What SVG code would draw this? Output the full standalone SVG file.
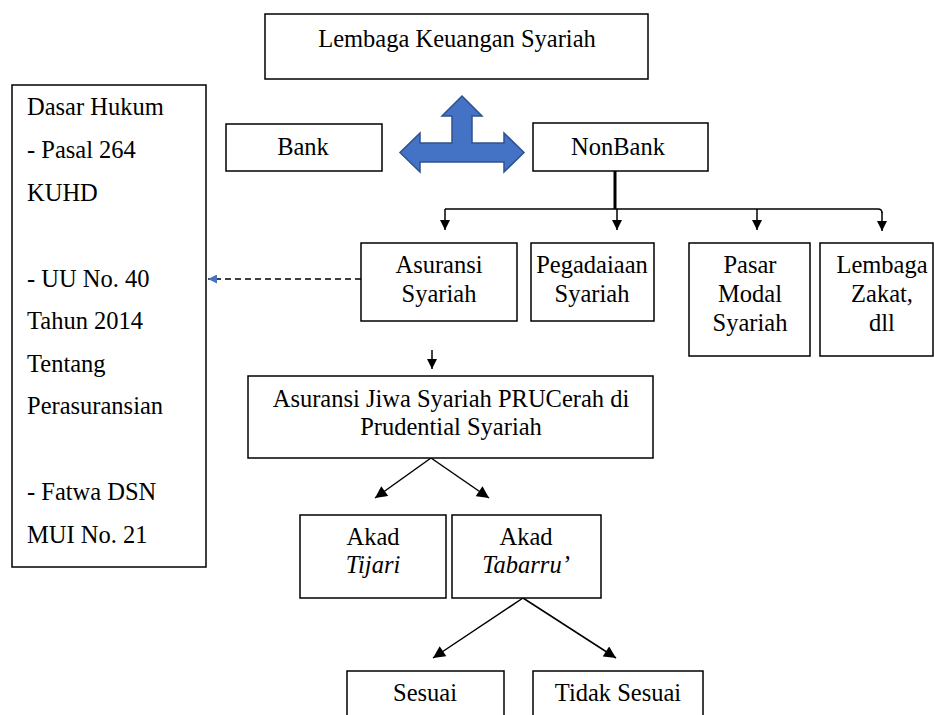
<svg xmlns="http://www.w3.org/2000/svg" width="934" height="715" viewBox="0 0 934 715">
<style>
  .box{fill:#fff;stroke:#000;stroke-width:1.5}
  text{font-family:"Liberation Serif" !important;font-size:24.5px}
  .c{text-anchor:middle}
  .it{font-style:italic}
  .ln{fill:none;stroke:#000;stroke-width:1.5}
</style>
<defs>
  <marker id="ah" viewBox="0 0 10 10" refX="10" refY="5" markerWidth="10" markerHeight="10" markerUnits="userSpaceOnUse" orient="auto">
    <path d="M0,0 L10,5 L0,10 Z" fill="#000"/>
  </marker>
  <marker id="ahs" viewBox="0 0 10 10" refX="10" refY="5" markerWidth="13" markerHeight="12" markerUnits="userSpaceOnUse" orient="auto">
    <path d="M0,0 L10,5 L0,10 Z" fill="#000"/>
  </marker>
  <marker id="ahb" viewBox="0 0 10 10" refX="10" refY="5" markerWidth="9" markerHeight="9" markerUnits="userSpaceOnUse" orient="auto">
    <path d="M0,0 L10,5 L0,10 Z" fill="#4472C4"/>
  </marker>
</defs>
<rect width="934" height="715" fill="#fff"/>

<g id="connectors">
  <polygon points="462,96 482,116 472,116 472,143 504,143 504,133 524,152.5 504,172 504,162 420,162 420,172 400,152.5 420,133 420,143 452,143 452,116 442,116" fill="#4472C4" stroke="#2F528F" stroke-width="1.5"/>
  <line x1="615" y1="171" x2="615" y2="209" stroke="#000" stroke-width="3"/>
  <path class="ln" d="M445,209 L878,209 Q882,209 882,213"/>
  <line class="ln" x1="445" y1="209" x2="445" y2="230" marker-end="url(#ah)"/>
  <line class="ln" x1="617" y1="209" x2="617" y2="230" marker-end="url(#ah)"/>
  <line class="ln" x1="757" y1="209" x2="757" y2="230" marker-end="url(#ah)"/>
  <line class="ln" x1="882" y1="212" x2="882" y2="231" marker-end="url(#ah)"/>
  <line class="ln" x1="432" y1="350" x2="432" y2="369" marker-end="url(#ah)"/>
  <line x1="361" y1="279" x2="208" y2="279" stroke="#000" stroke-width="1.5" stroke-dasharray="6,4" marker-end="url(#ahb)"/>
  <line class="ln" x1="431" y1="458" x2="375" y2="498" marker-end="url(#ahs)"/>
  <line class="ln" x1="431" y1="458" x2="489" y2="498" marker-end="url(#ahs)"/>
  <line class="ln" x1="523" y1="598" x2="433" y2="658" marker-end="url(#ahs)"/>
  <line class="ln" x1="523" y1="598" x2="616" y2="658" marker-end="url(#ahs)"/>
</g>

<g id="lks">
  <rect class="box" x="265" y="14" width="383" height="65"/>
  <text class="c" font-family="Liberation Serif" x="457" y="47">Lembaga Keuangan Syariah</text>
</g>
<g id="bank">
  <rect class="box" x="226" y="124" width="156" height="47"/>
  <text class="c" font-family="Liberation Serif" x="303" y="155">Bank</text>
</g>
<g id="nonbank">
  <rect class="box" x="533" y="123" width="175" height="48"/>
  <text class="c" font-family="Liberation Serif" x="618" y="155">NonBank</text>
</g>
<g id="dasar-hukum">
  <rect class="box" x="12" y="85" width="194" height="482"/>
  <text font-family="Liberation Serif" x="27" y="115">Dasar Hukum</text>
  <text font-family="Liberation Serif" x="27" y="158">- Pasal 264</text>
  <text font-family="Liberation Serif" x="27" y="201">KUHD</text>
  <text font-family="Liberation Serif" x="27" y="287">- UU No. 40</text>
  <text font-family="Liberation Serif" x="27" y="329">Tahun 2014</text>
  <text font-family="Liberation Serif" x="27" y="372">Tentang</text>
  <text font-family="Liberation Serif" x="27" y="414">Perasuransian</text>
  <text font-family="Liberation Serif" x="27" y="500">- Fatwa DSN</text>
  <text font-family="Liberation Serif" x="27" y="543">MUI No. 21</text>
</g>
<g id="asuransi">
  <rect class="box" x="361" y="243" width="156" height="78"/>
  <text class="c" font-family="Liberation Serif" x="439" y="273">Asuransi</text>
  <text class="c" font-family="Liberation Serif" x="439" y="302">Syariah</text>
</g>
<g id="pegadaian">
  <rect class="box" x="531" y="243" width="123" height="78"/>
  <text class="c" font-family="Liberation Serif" x="592" y="273">Pegadaiaan</text>
  <text class="c" font-family="Liberation Serif" x="592" y="302">Syariah</text>
</g>
<g id="pasar-modal">
  <rect class="box" x="689" y="243" width="121" height="113"/>
  <text class="c" font-family="Liberation Serif" x="750" y="273">Pasar</text>
  <text class="c" font-family="Liberation Serif" x="750" y="302">Modal</text>
  <text class="c" font-family="Liberation Serif" x="750" y="331">Syariah</text>
</g>
<g id="lembaga-zakat">
  <rect class="box" x="820" y="243" width="113" height="113"/>
  <text class="c" font-family="Liberation Serif" x="882" y="273">Lembaga</text>
  <text class="c" font-family="Liberation Serif" x="882" y="302">Zakat,</text>
  <text class="c" font-family="Liberation Serif" x="882" y="331">dll</text>
</g>
<g id="prucerah">
  <rect class="box" x="248" y="376" width="405" height="82"/>
  <text class="c" font-family="Liberation Serif" x="451" y="407">Asuransi Jiwa Syariah PRUCerah di</text>
  <text class="c" font-family="Liberation Serif" x="451" y="435">Prudential Syariah</text>
</g>
<g id="tijari">
  <rect class="box" x="300" y="515" width="146" height="83"/>
  <text class="c" font-family="Liberation Serif" x="373" y="545">Akad</text>
  <text class="c it" font-family="Liberation Serif" x="373" y="573">Tijari</text>
</g>
<g id="tabarru">
  <rect class="box" x="452" y="515" width="149" height="83"/>
  <text class="c" font-family="Liberation Serif" x="526" y="545">Akad</text>
  <text class="c it" font-family="Liberation Serif" x="526" y="573">Tabarru’</text>
</g>
<g id="sesuai">
  <rect class="box" x="347" y="671" width="157" height="60"/>
  <text class="c" font-family="Liberation Serif" x="425" y="701">Sesuai</text>
</g>
<g id="tidak-sesuai">
  <rect class="box" x="533" y="671" width="170" height="60"/>
  <text class="c" font-family="Liberation Serif" x="618" y="701">Tidak Sesuai</text>
</g>
</svg>
